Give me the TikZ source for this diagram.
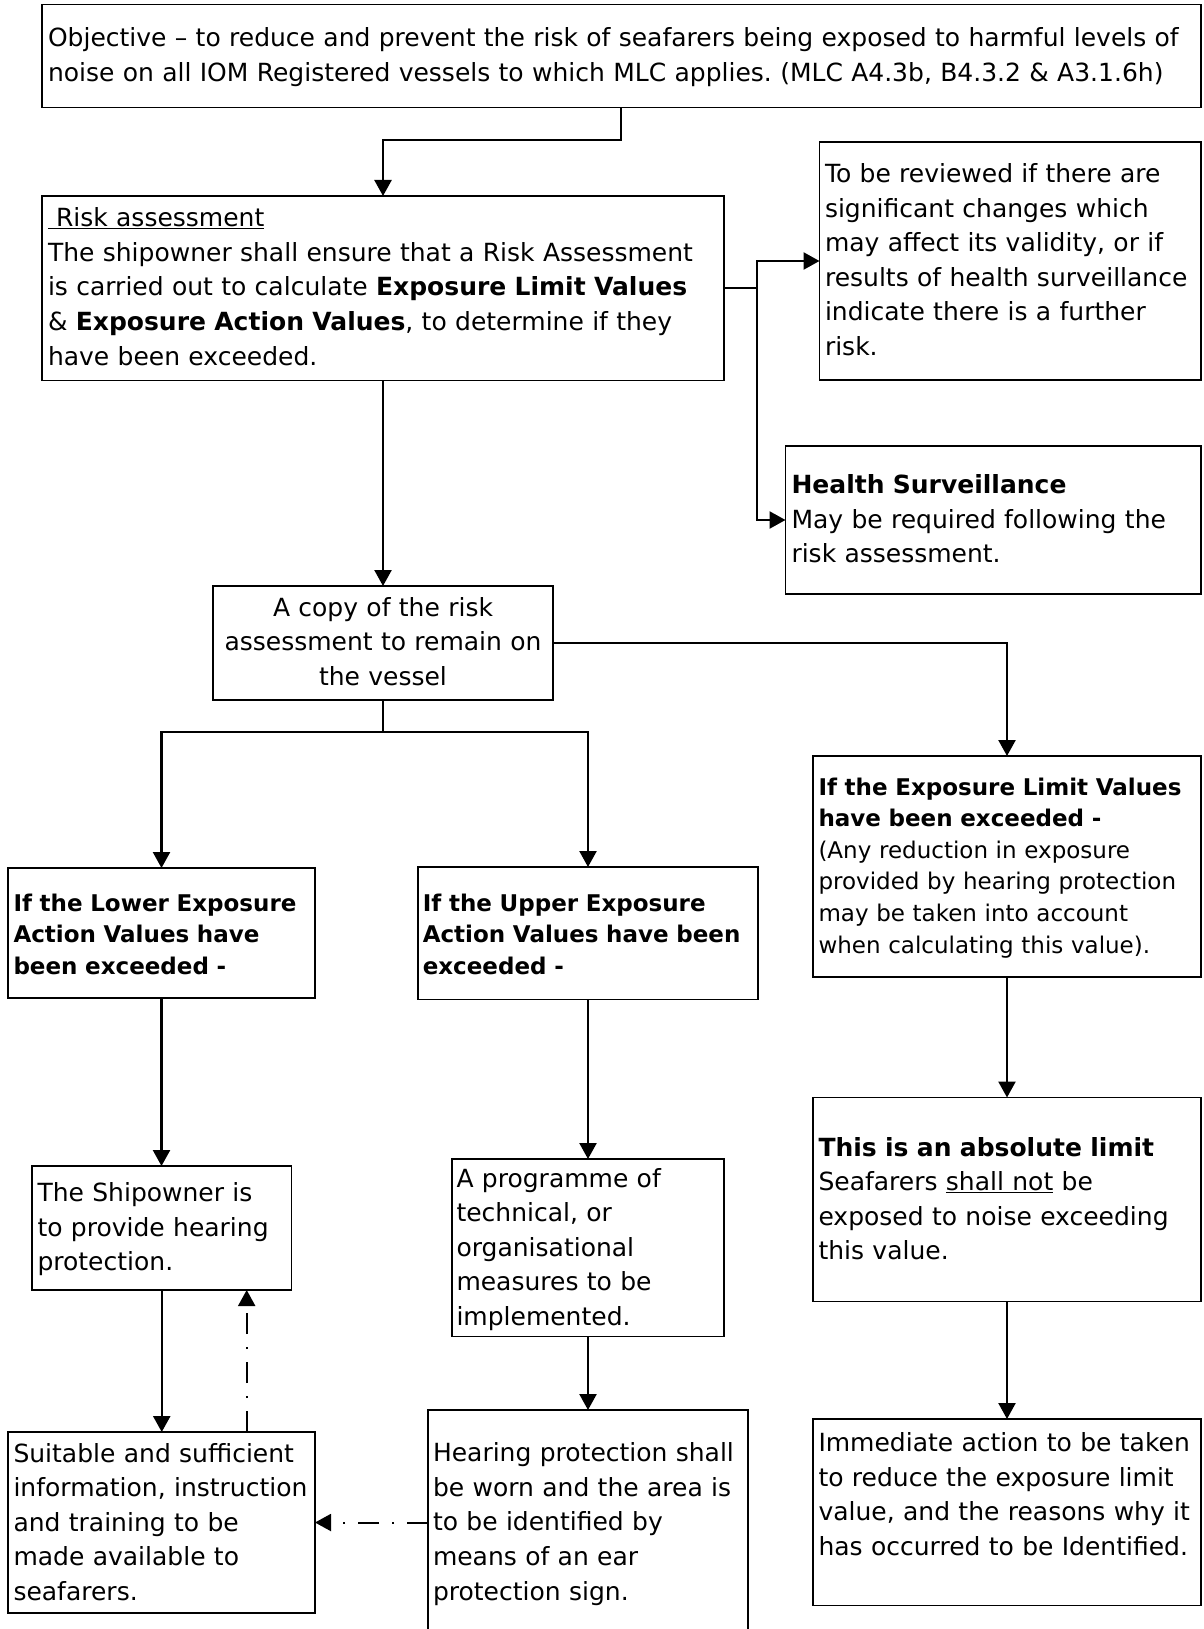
\documentclass[tikz,border=0pt]{standalone}
\usepackage{fontspec}
\setmainfont{DejaVu Sans}
\usetikzlibrary{arrows.meta}
\newcommand\mynormal{\fontsize{25}{34.6}\selectfont}
\newcommand\mysmall{\fontsize{23}{31.6}\selectfont}
\frenchspacing
\begin{document}
\begin{tikzpicture}[x=1pt,y=-1pt,
  box/.style={draw,line width=1.5pt,inner sep=0pt,outer sep=0pt,anchor=north west,rectangle},
  txt/.style={inner sep=0pt,outer sep=0pt,anchor=north west,align=left,text width=1500pt,font=\mynormal,execute at begin node=\strut},
  stxt/.style={txt,font=\mysmall},
  conn/.style={line width=2.4pt},
  arr/.style={conn,-{Triangle[width=17pt,length=16pt]}},
  dd/.style={line width=2pt,dash pattern=on 21pt off 13pt on 2pt off 13pt,-{Triangle[width=17pt,length=16pt]}}
]
\useasboundingbox (0,0) rectangle (1203,1629);
\fill[white] (0,0) rectangle (1203,1629);
\clip (0,0) rectangle (1203,1629);

% boxes
\node[box,minimum width=1159pt,minimum height=103pt] (obj) at (42,4.5) {};
\node[box,minimum width=682pt,minimum height=184.5pt] (risk) at (42,196) {};
\node[box,minimum width=381.5pt,minimum height=238pt] (rev) at (819.5,142) {};
\node[box,minimum width=415.5pt,minimum height=148pt] (hs) at (785.5,446) {};
\node[box,minimum width=340pt,minimum height=114pt] (copy) at (213,586) {};
\node[box,minimum width=307pt,minimum height=130pt] (lower) at (8,868) {};
\node[box,minimum width=340pt,minimum height=132.5pt] (upper) at (418,867) {};
\node[box,minimum width=388pt,minimum height=221pt] (elv) at (813,756) {};
\node[box,minimum width=259.5pt,minimum height=124pt] (ship) at (32,1166) {};
\node[box,minimum width=272pt,minimum height=177.5pt] (prog) at (452,1159) {};
\node[box,minimum width=388pt,minimum height=204pt] (abs) at (813,1097.5) {};
\node[box,minimum width=307pt,minimum height=181pt] (suit) at (8,1432) {};
\node[box,minimum width=320pt,minimum height=240pt] (hear) at (428,1410) {};
\node[box,minimum width=388pt,minimum height=186.5pt] (imm) at (813,1419) {};

% texts
\node[txt] (objT) at (48,22.5) {Objective – to reduce and prevent the risk of seafarers being exposed to harmful levels of\\noise on all IOM Registered vessels to which MLC applies. (MLC A4.3b, B4.3.2 \& A3.1.6h)};
\node[txt] (riskT) at (48,202.5) {\underline{\hspace{8pt}Risk assessment}\\The shipowner shall ensure that a Risk Assessment\\is carried out to calculate \textbf{Exposure Limit Values}\\\& \textbf{Exposure Action Values}, to determine if they\\have been exceeded.};
\node[txt] (revT) at (825,158.3) {To be reviewed if there are\\significant changes which\\may affect its validity, or if\\results of health surveillance\\indicate there is a further\\risk.};
\node[txt] (hsT) at (791.5,469.3) {\textbf{Health Surveillance}\\May be required following the\\risk assessment.};
\node[txt,anchor=north,align=center] (copyT) at (383,591.8) {A copy of the risk\\assessment to remain on\\the vessel};
\node[stxt] (lowerT) at (13.5,888.9) {\textbf{If the Lower Exposure}\\\textbf{Action Values have}\\\textbf{been exceeded -}};
\node[stxt] (upperT) at (422.8,888.9) {\textbf{If the Upper Exposure}\\\textbf{Action Values have been}\\\textbf{exceeded -}};
\node[stxt] (elvT) at (818.5,772.9) {\textbf{If the Exposure Limit Values}\\\textbf{have been exceeded -}\\(Any reduction in exposure\\provided by hearing protection\\may be taken into account\\when calculating this value).};
\node[txt] (shipT) at (37.5,1177.2) {The Shipowner is\\to provide hearing\\protection.};
\node[txt] (progT) at (456.5,1162.8) {A programme of\\technical, or\\organisational\\measures to be\\implemented.};
\node[txt] (absT) at (818.5,1131.8) {\textbf{This is an absolute limit}\\Seafarers \underline{shall not} be\\exposed to noise exceeding\\this value.};
\node[txt] (suitT) at (13.5,1437.8) {Suitable and sufficient\\information, instruction\\and training to be\\made available to\\seafarers.};
\node[txt] (hearT) at (433,1437.5) {Hearing protection shall\\be worn and the area is\\to be identified by\\means of an ear\\protection sign.};
\node[txt] (immT) at (818.5,1427.5) {Immediate action to be taken\\to reduce the exposure limit\\value, and the reasons why it\\has occurred to be Identified.};

% connectors
\coordinate (c1) at (621,140);
\draw[arr] (c1 |- obj.south) -- (c1) -| (risk.north);
\coordinate (j1) at (757,288);
\draw[conn] (risk.east) -- (j1 |- risk.east);
\draw[arr] (j1 |- risk.east) |- (rev.west);
\draw[arr] (j1 |- risk.east) |- (hs.west);
\draw[arr] (risk.south) -- (copy.north);
\draw[arr] (copy.east) -| (elv.north);
\coordinate (j2) at (383,732);
\draw[conn] (copy.south) -- (copy.south |- j2);
\draw[arr] (copy.south |- j2) -| (lower.north);
\draw[arr] (copy.south |- j2) -| (upper.north);
\draw[arr] (lower.south) -- (lower.south |- ship.north);
\draw[arr] (ship.south) -- (ship.south |- suit.north);
\draw[arr] (upper.south) -- (upper.south |- prog.north);
\draw[arr] (prog.south) -- (prog.south |- hear.north);
\draw[arr] (elv.south) -- (elv.south |- abs.north);
\draw[arr] (abs.south) -- (abs.south |- imm.north);
\coordinate (d1) at (246.7,1350);
\draw[dd] (d1 |- suit.north) -- (d1 |- ship.south);
\draw[dd] (hear.west |- suit.east) -- (suit.east);
\end{tikzpicture}
\end{document}
